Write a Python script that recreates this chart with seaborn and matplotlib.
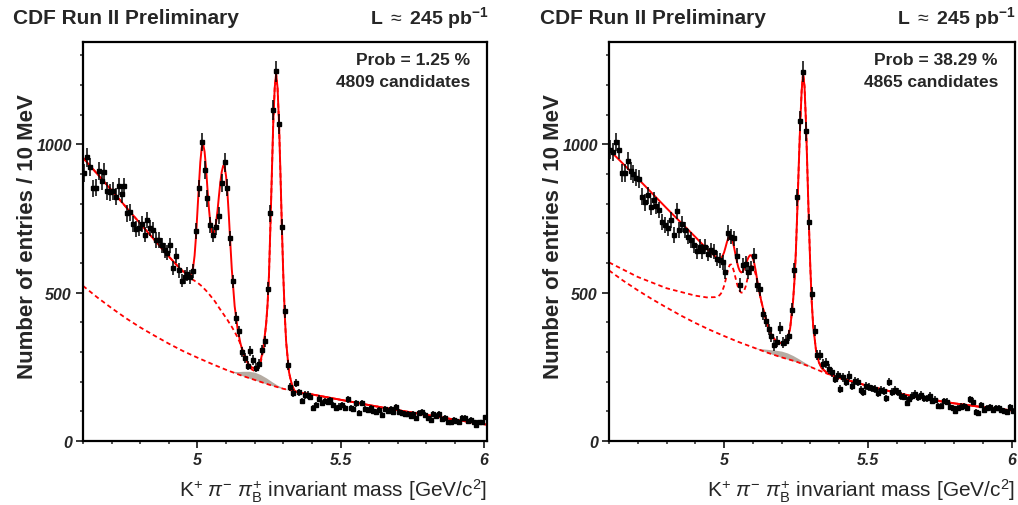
import numpy as np
import pandas as pd
import seaborn as sns
import matplotlib
matplotlib.use("Agg")
import matplotlib.pyplot as plt
from matplotlib.ticker import FixedLocator, MultipleLocator

## bins: 10 MeV wide, centres 4.605 ... 6.005
bin_centers = np.round(np.arange(4.605, 6.006, 0.01), 3)

# left panel: entries per bin
counts_left = [
    903, 956, 922, 852, 854, 911, 877, 906, 843, 839,
    843, 824, 858, 832, 858, 767, 771, 731, 714, 717,
    731, 696, 745, 717, 711, 677, 677, 660, 643, 635,
    660, 584, 624, 575, 541, 553, 562, 553, 572, 709,
    852, 1008, 915, 818, 728, 696, 722, 760, 869, 939,
    854, 683, 538, 414, 370, 301, 279, 254, 304, 272,
    247, 260, 306, 336, 514, 767, 1117, 1247, 1069, 722,
    437, 257, 181, 161, 195, 164, 135, 155, 155, 150,
    112, 121, 143, 128, 135, 132, 137, 121, 112, 116,
    121, 110, 141, 110, 107, 127, 94, 128, 107, 104,
    110, 102, 98, 105, 87, 107, 100, 107, 98, 114,
    98, 94, 90, 90, 83, 90, 77, 94, 98, 87,
    76, 71, 90, 85, 90, 73, 79, 64, 64, 71,
    67, 64, 78, 78, 67, 71, 64, 53, 64, 64,
    80]

# right panel: entries per bin
counts_right = [
    982, 974, 1008, 982, 903, 903, 944, 911, 899, 888,
    884, 824, 805, 829, 790, 812, 793, 779, 737, 728,
    717, 745, 694, 775, 711, 730, 711, 689, 677, 660,
    640, 655, 640, 655, 632, 643, 638, 615, 609, 602,
    570, 700, 689, 683, 624, 525, 592, 598, 570, 584,
    624, 525, 511, 429, 406, 376, 353, 322, 335, 380,
    331, 338, 355, 443, 575, 821, 1078, 1245, 1044, 737,
    497, 372, 290, 290, 260, 263, 243, 231, 209, 222,
    175, 215, 198, 220, 184, 203, 198, 173, 166, 186,
    181, 177, 175, 161, 172, 169, 144, 198, 166, 172,
    166, 152, 150, 128, 141, 152, 158, 147, 155, 144,
    144, 152, 135, 139, 118, 118, 135, 132, 116, 110,
    102, 110, 116, 118, 110, 141, 132, 98, 96, 121,
    105, 110, 113, 105, 110, 110, 105, 102, 98, 113,
    102]

fit_x = [
    4.60, 4.70, 4.80, 4.90, 4.94, 4.97, 4.98, 4.985, 4.99, 4.995,
    5.00, 5.005, 5.01, 5.015, 5.02, 5.025, 5.03, 5.035, 5.04, 5.045,
    5.05, 5.055, 5.06, 5.065, 5.07, 5.075, 5.08, 5.085, 5.09, 5.095,
    5.10, 5.105, 5.11, 5.115, 5.12, 5.13, 5.14, 5.15, 5.16, 5.17,
    5.18, 5.19, 5.20, 5.21, 5.22, 5.23, 5.24, 5.245, 5.25, 5.255,
    5.26, 5.265, 5.27, 5.275, 5.28, 5.285, 5.29, 5.295, 5.30, 5.305,
    5.31, 5.32, 5.33, 5.34, 5.36, 5.40, 5.50, 5.60, 5.70, 5.80,
    5.90, 6.012]

total_left = [
    955, 845, 733, 622, 580, 556, 565, 585, 625, 690,
    775, 860, 940, 990, 1000, 975, 920, 850, 785, 735,
    705, 698, 708, 735, 775, 825, 872, 908, 928, 925,
    893, 835, 755, 665, 580, 455, 380, 330, 295, 272,
    257, 248, 245, 250, 268, 310, 395, 460, 560, 725,
    900, 1075, 1190, 1238, 1190, 1075, 905, 725, 560, 430,
    335, 232, 190, 168, 162, 157, 139, 121, 104, 88,
    72, 55]

dash_left = [
    955, 845, 733, 622, 580, 552, 546, 543, 540, 537,
    534, 530, 526, 522, 517, 512, 507, 502, 496, 490,
    484, 478, 472, 465, 458, 450, 443, 436, 429, 422,
    415, 408, 400, 392, 385, 368, 350, 328, 302, 276,
    255, 241, 236, 240, 260, 305, 392, 458, 558, 723,
    898, 1073, 1188, 1236, 1188, 1073, 903, 723, 558, 428,
    333, 230, 188, 168, 162, 157, 139, 121, 104, 88,
    72, 55]

total_right = [
    982, 885, 785, 688, 648, 622, 612, 612, 616, 624,
    635, 652, 670, 684, 690, 686, 673, 653, 628, 604,
    585, 573, 568, 571, 580, 593, 607, 619, 626, 626,
    617, 600, 575, 545, 515, 470, 430, 395, 368, 350,
    338, 332, 330, 332, 342, 380, 470, 540, 640, 780,
    930, 1070, 1180, 1240, 1195, 1075, 910, 740, 590, 470,
    390, 305, 265, 245, 228, 213, 186, 162, 143, 127,
    114, 102]

dash_right = [
    602, 553, 515, 490, 484, 485, 488, 492, 498, 508,
    522, 540, 562, 582, 594, 595, 586, 570, 550, 530,
    515, 505, 500, 501, 507, 520, 540, 562, 580, 590,
    588, 578, 562, 540, 515, 470, 430, 395, 368, 350,
    338, 332, 330, 332, 342, 380, 470, 540, 640, 780,
    930, 1070, 1180, 1240, 1195, 1075, 910, 740, 590, 470,
    390, 305, 265, 245, 228, 213, 186, 162, 143, 127,
    114, 102]

# combinatorial background (lower dashed line)
comb_x = [
    4.60, 4.65, 4.70, 4.75, 4.80, 4.85, 4.90, 4.95, 5.00, 5.05,
    5.10, 5.15, 5.20, 5.25, 5.30, 5.35, 5.40, 5.45, 5.50, 5.55,
    5.60, 5.65, 5.70, 5.75, 5.80, 5.85, 5.90, 5.95, 6.00, 6.012]
comb_left = [
    523, 484, 448, 414, 383, 355, 328, 303, 281, 260,
    240, 222, 206, 190, 176, 166, 157, 148, 139, 130,
    121, 112, 104, 96, 88, 80, 72, 64, 57, 55]
comb_right = [
    575, 540, 508, 478, 450, 423, 398, 375, 354, 334,
    316, 298, 282, 268, 250, 230, 213, 199, 186, 174,
    162, 152, 143, 134, 127, 121, 114, 108, 103, 102]

# grey component sitting on the background
gray_x = [5.10, 5.12, 5.14, 5.16, 5.18, 5.20, 5.22, 5.24, 5.26, 5.28, 5.30, 5.32, 5.34]
gray_lo_left = [240, 233, 226, 219, 212, 206, 199, 193, 187, 181, 176, 171, 166]
gray_hi_left = [240, 235, 234, 235, 235, 232, 224, 213, 200, 188, 179, 172, 166]
gray_lo_right = [316, 309, 302, 295, 288, 282, 276, 270, 264, 257, 250, 242, 235]
gray_hi_right = [316, 312, 310, 308, 306, 303, 297, 288, 277, 265, 254, 243, 235]

prob_text = ["Prob = 1.25 %", "Prob = 38.29 %"]
cand_text = ["4809 candidates", "4865 candidates"]

sns.set_style("ticks")
plt.rcParams["font.family"] = ["Liberation Sans", "DejaVu Sans"]
plt.rcParams["mathtext.fontset"] = "custom"
plt.rcParams["mathtext.rm"] = "Liberation Sans"
plt.rcParams["mathtext.it"] = "Liberation Sans:italic"
plt.rcParams["mathtext.bf"] = "Liberation Sans:bold"

fig = plt.figure(figsize=(10.18, 5.06), dpi=100)
ax_l = fig.add_axes([83 / 1018, 64 / 506, 404 / 1018, 399 / 506])
ax_r = fig.add_axes([609 / 1018, 64 / 506, 406 / 1018, 399 / 506])


def draw_panel(ax, counts, total, dash, comb, glo, ghi, prob, ncand):
    ax.fill_between(gray_x, glo, ghi, color="#b5aca3", lw=0, zorder=1)
    sns.lineplot(x=comb_x, y=comb, ax=ax, color="red", lw=1.3,
                 dashes=(2.5, 1.8), sort=False, estimator=None, zorder=2)
    sns.lineplot(x=fit_x, y=dash, ax=ax, color="red", lw=1.3,
                 dashes=(2.5, 1.8), sort=False, estimator=None, zorder=2)
    sns.lineplot(x=fit_x, y=total, ax=ax, color="red", lw=1.4,
                 sort=False, estimator=None, zorder=2)
    df = pd.DataFrame({"mass": bin_centers, "n": counts})
    ax.errorbar(df["mass"], df["n"], yerr=np.sqrt(df["n"]), fmt="s",
                ms=2.6, color="black", ecolor="black", elinewidth=1.1,
                capsize=0, zorder=3)

    ax.set_xlim(4.6, 6.012)
    ax.set_ylim(0, 1345)
    ax.xaxis.set_major_locator(FixedLocator([5, 5.5, 6]))
    ax.set_xticklabels(["5", "5.5", "6"])
    ax.xaxis.set_minor_locator(MultipleLocator(0.1))
    ax.yaxis.set_major_locator(FixedLocator([0, 500, 1000]))
    ax.yaxis.set_minor_locator(MultipleLocator(100))
    ax.tick_params(which="major", direction="out", length=5, width=1.3,
                   labelsize=11.5, pad=3)
    ax.tick_params(which="minor", direction="out", length=2.5, width=1.1)
    for lab in ax.get_xticklabels() + ax.get_yticklabels():
        lab.set_fontweight("bold")
        lab.set_fontstyle("italic")
    for sp in ax.spines.values():
        sp.set_visible(True)
        sp.set_linewidth(1.6)
        sp.set_color("black")

    ax.set_xlabel(r"K$^{+}$ $\pi^{-}$ $\pi^{+}_{\mathrm{B}}$ invariant mass [GeV/c$^{2}$]",
                  fontsize=15, loc="right")
    ax.xaxis.set_label_coords(1.0, -0.09)
    ax.set_ylabel("Number of entries / 10 MeV", fontsize=16, fontweight="bold")
    ax.yaxis.set_label_coords(-0.112, 0.515)

    ax.text(0.958, 0.955, prob, transform=ax.transAxes, ha="right",
            va="center", fontsize=12.5, fontweight="bold")
    ax.text(0.958, 0.902, ncand, transform=ax.transAxes, ha="right",
            va="center", fontsize=12.5, fontweight="bold")


draw_panel(ax_l, counts_left, total_left, dash_left, comb_left,
           gray_lo_left, gray_hi_left, prob_text[0], cand_text[0])
draw_panel(ax_r, counts_right, total_right, dash_right, comb_right,
           gray_lo_right, gray_hi_right, prob_text[1], cand_text[1])

# headers
for x0, x1 in [(13, 489), (540, 1016)]:
    fig.text(x0 / 1018, 1 - 18 / 506, "CDF Run II Preliminary", ha="left",
             va="center", fontsize=15, fontweight="bold")
    fig.text(x1 / 1018, 1 - 18 / 506, r"L $\approx$ 245 pb$^{\mathbf{-1}}$",
             ha="right", va="center", fontsize=14, fontweight="bold")

fig.savefig("out.png", dpi=100)
